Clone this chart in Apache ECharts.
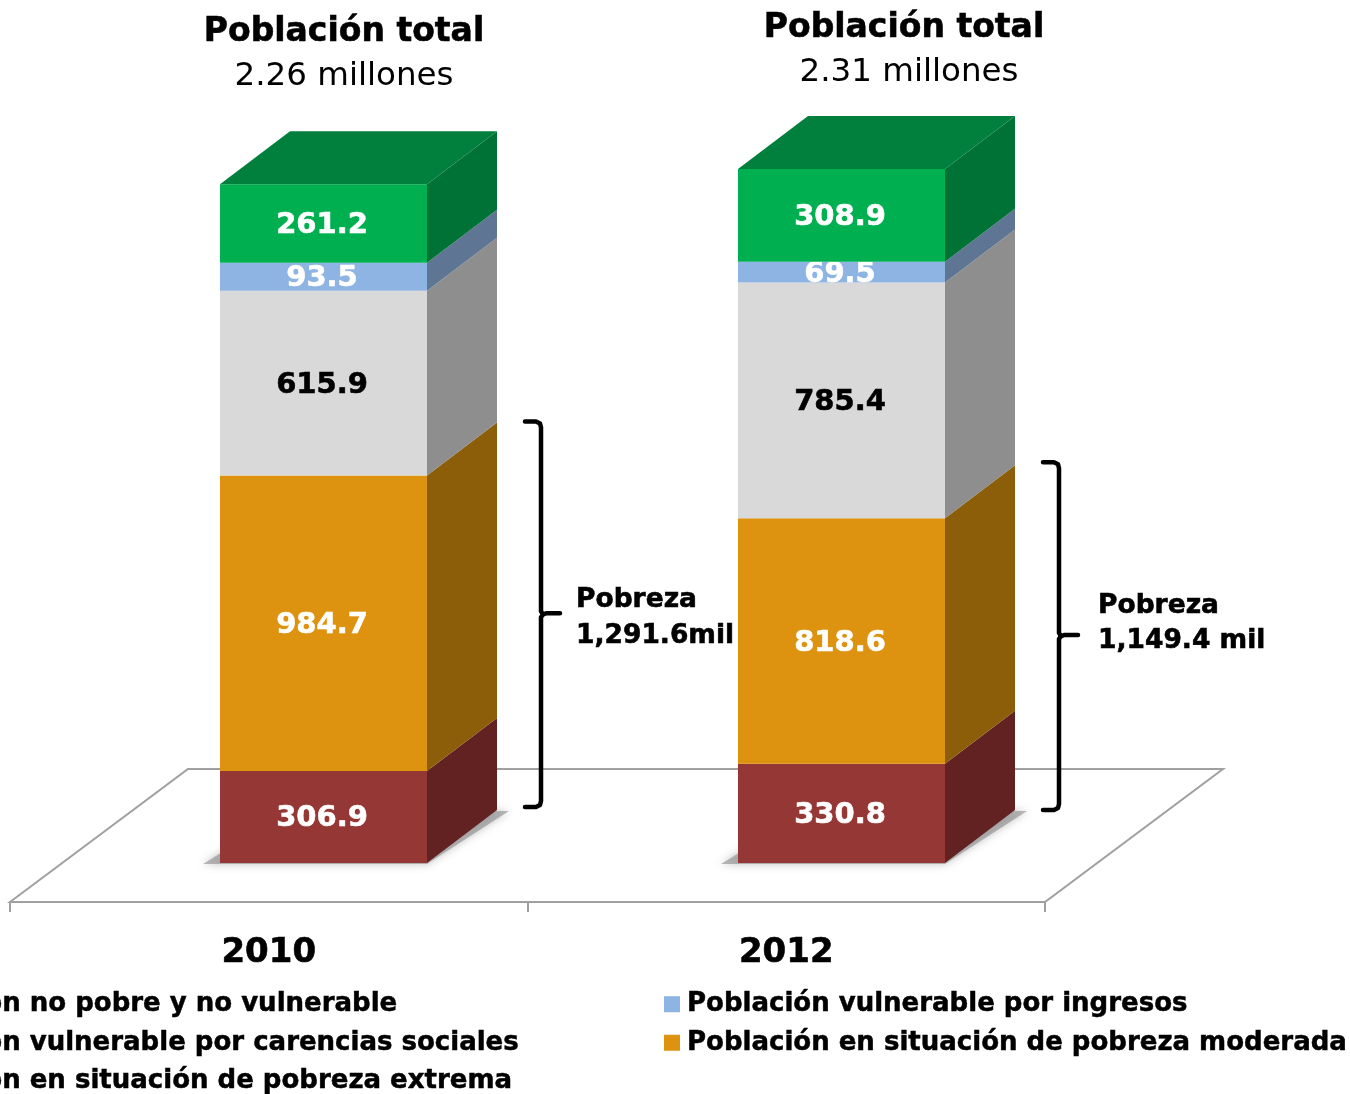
<!DOCTYPE html>
<html>
<head>
<meta charset="utf-8">
<style>html,body{margin:0;padding:0;background:#fff;overflow:hidden}#c{width:1350px;height:1094px}</style>
<script src="https://cdn.jsdelivr.net/npm/echarts@6/dist/echarts.min.js"></script>
</head>
<body>
<div id="c"></div>
<script>
const years = ['2010', '2012'];
const pobrezaExtrema = [306.9, 330.8];
const pobrezaModerada = [984.7, 818.6];
const vulnerableCarencias = [615.9, 785.4];
const vulnerableIngresos = [93.5, 69.5];
const noPobre = [261.2, 308.9];
const pobrezaTotal = [1291.6, 1149.4];
const seriesNames = [
  'Población en situación de pobreza extrema',
  'Población en situación de pobreza moderada',
  'Población vulnerable por carencias sociales',
  'Población vulnerable por ingresos',
  'Población no pobre y no vulnerable'
];
const seriesValues = [pobrezaExtrema, pobrezaModerada, vulnerableCarencias, vulnerableIngresos, noPobre];
const frontColors = ['#953735', '#DD9210', '#D9D9D9', '#8DB4E2', '#00B050'];
const sideColors = ['#632222', '#8C5E0A', '#8E8E8E', '#5E7694', '#007236'];
const labelColors = ['#fff', '#fff', '#000', '#fff', '#fff'];
const topColor = '#00803C';
const FONT = '"DejaVu Sans", Verdana, sans-serif';
const depthX = 70, depthY = 53;
const bracketPad = [[0, 0], [-2, 3]];

const chart = echarts.init(document.getElementById('c'), null, {renderer: 'canvas'});

function barGeom(api, idx, v) {
  const p = api.coord([idx, v]);
  const band = api.size([1, 0])[0];
  const c = p[0] + band * 0.1058;
  return {left: Math.round(c - band * 0.2), right: Math.round(c + band * 0.2), y: p[1], band: band, cx: p[0]};
}

function renderSegment(s) {
  return function (params, api) {
    const idx = api.value(0), base = api.value(1), val = api.value(2);
    const a = barGeom(api, idx, base), b = barGeom(api, idx, base + val);
    const l = a.left, r = a.right, y0 = a.y, y1 = b.y;
    const children = [];
    if (s === 0) {
      children.push({
        type: 'polygon',
        shape: {points: [[l - 17, y0 + 1], [r, y0 + 1], [r + depthX + 12, y0 - depthY + 1], [l + depthX, y0 - depthY]]},
        style: {fill: 'rgba(140,140,140,0.6)', shadowBlur: 8, shadowColor: 'rgba(110,110,110,0.7)'}
      });
    }
    children.push({type: 'rect', shape: {x: l, y: y1, width: r - l, height: y0 - y1}, style: {fill: frontColors[s]}});
    children.push({
      type: 'polygon',
      shape: {points: [[r, y0], [r + depthX, y0 - depthY], [r + depthX, y1 - depthY], [r, y1]]},
      style: {fill: sideColors[s]}
    });
    if (s === seriesValues.length - 1) {
      children.push({
        type: 'polygon',
        shape: {points: [[l, y1], [l + depthX, y1 - depthY], [r + depthX, y1 - depthY], [r, y1]]},
        style: {fill: topColor}
      });
    }
    children.push({
      type: 'text',
      style: {
        text: val.toFixed(1), x: (l + r) / 2 - 1.5, y: (y0 + y1) / 2 + 2,
        align: 'center', verticalAlign: 'middle', fill: labelColors[s],
        stroke: labelColors[s], lineWidth: 0.6,
        font: 'bold 29px ' + FONT
      }
    });
    return {type: 'group', children: children};
  };
}

function renderFloor(params, api) {
  const first = api.coord([0, api.value(1)]);
  const last = api.coord([years.length - 1, api.value(1)]);
  const band = api.size([1, 0])[0];
  const x0 = first[0] - band / 2, x1 = last[0] + band / 2, y = first[1];
  return {
    type: 'polygon',
    shape: {points: [[x0, y], [x0 + 178, y - 133], [x1 + 178, y - 133], [x1, y]]},
    style: {fill: '#fff', stroke: '#A0A0A0', lineWidth: 2}
  };
}

function renderBracket(params, api) {
  const idx = api.value(0);
  const a = barGeom(api, idx, 0), b = barGeom(api, idx, api.value(1));
  const v = a.right + depthX + 44;
  const top = b.y - depthY - 1 + bracketPad[idx][0], bot = a.y - depthY - 3 + bracketPad[idx][1], mid = (top + bot) / 2;
  const st = {stroke: '#000', fill: 'none', lineWidth: 4.5, lineJoin: 'round', lineCap: 'round'};
  return {
    type: 'group',
    children: [
      {type: 'polyline', shape: {points: [[v - 16, top], [v - 5, top], [v - 1, top + 2], [v, top + 6], [v, mid - 3], [v + 2, mid], [v, mid + 3], [v, bot - 6], [v - 1, bot - 2], [v - 5, bot], [v - 16, bot]]}, style: st},
      {type: 'polyline', shape: {points: [[v + 2, mid], [v + 5, mid - 1], [v + 19, mid - 1]]}, style: st}
    ]
  };
}

const segSeries = seriesNames.map(function (name, s) {
  const data = years.map(function (y, i) {
    let base = 0;
    for (let k = 0; k < s; k++) base += seriesValues[k][i];
    return [i, base, seriesValues[s][i]];
  });
  return {
    type: 'custom', name: name, coordinateSystem: 'cartesian2d', clip: false, z: 3,
    itemStyle: {color: frontColors[s]},
    encode: {x: 0, y: [1, 2]},
    renderItem: renderSegment(s),
    data: data
  };
});

const legendText = {fontFamily: FONT, fontWeight: 'bold', fontSize: 26, color: '#000', padding: [0, 0, 0, 2], textBorderColor: '#000', textBorderWidth: 0.5};
const YMIN = -130, YMAX = 2870;
const titleBold = 'bold 33px ' + FONT, titleReg = '32.5px ' + FONT, noteFont = 'bold 26.5px ' + FONT;
function txt(x, y, text, font, align) {
  const bold = font.indexOf('bold') === 0;
  return {type: 'text', x: x, y: y, style: {text: text, align: align, verticalAlign: 'middle', font: font, fill: '#000', stroke: bold ? '#000' : 'none', lineWidth: bold ? 0.6 : 0}};
}

chart.setOption({
  animation: false,
  backgroundColor: '#fff',
  grid: {left: 10, width: 1035, top: 2, height: 900},
  xAxis: {
    type: 'category', data: years, boundaryGap: true,
    axisLine: {onZero: false, lineStyle: {color: '#A0A0A0', width: 2}},
    axisTick: {show: true, length: 10, alignWithLabel: false, lineStyle: {color: '#A0A0A0', width: 2}},
    axisLabel: {fontFamily: FONT, fontWeight: 'bold', fontSize: 34, color: '#000', margin: 34, textBorderColor: '#000', textBorderWidth: 0.6}
  },
  yAxis: {type: 'value', min: YMIN, max: YMAX, show: false, splitLine: {show: false}},
  legend: [
    {
      orient: 'vertical', left: -150, top: 986, height: 200, itemWidth: 16, itemHeight: 16, itemGap: 12,
      icon: 'rect', textStyle: legendText, selectedMode: false,
      data: [seriesNames[4], seriesNames[2], seriesNames[0]]
    },
    {
      orient: 'vertical', left: 659, top: 986, height: 200, itemWidth: 16, itemHeight: 16, itemGap: 12,
      icon: 'rect', textStyle: legendText, selectedMode: false,
      data: [seriesNames[3], seriesNames[1]]
    }
  ],
  graphic: [
    txt(344, 32, 'Población total', titleBold, 'center'),
    txt(344, 77, '2.26 millones', titleReg, 'center'),
    txt(904, 28, 'Población total', titleBold, 'center'),
    txt(909, 73, '2.31 millones', titleReg, 'center'),
    txt(576, 600, 'Pobreza', noteFont, 'left'),
    txt(576, 636, '1,291.6mil', noteFont, 'left'),
    txt(1098, 606, 'Pobreza', noteFont, 'left'),
    txt(1098, 641, '1,149.4 mil', noteFont, 'left')
  ],
  series: [
    {type: 'custom', name: 'piso', coordinateSystem: 'cartesian2d', clip: false, z: 1, silent: true, encode: {x: 0, y: 1}, renderItem: renderFloor, data: [[0, YMIN]]}
  ].concat(segSeries).concat([
    {type: 'custom', name: 'Pobreza', coordinateSystem: 'cartesian2d', clip: false, z: 4, silent: true, encode: {x: 0, y: 1},
      renderItem: renderBracket, data: pobrezaTotal.map(function (v, i) { return [i, v]; })}
  ])
});
</script>
</body>
</html>
